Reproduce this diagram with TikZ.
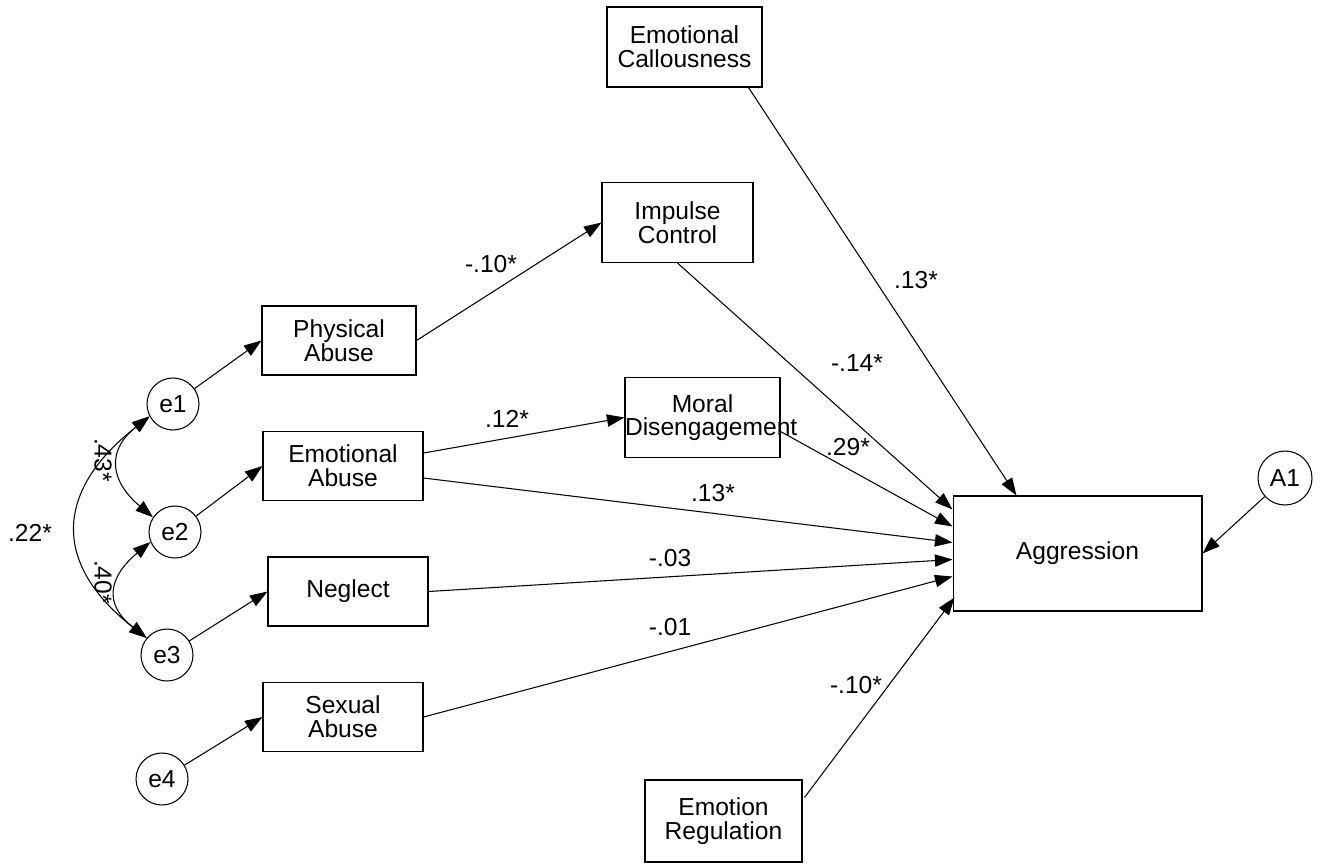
\documentclass[tikz,border=0pt]{standalone}
\usepackage{fontspec}
\setmainfont{Liberation Sans}
\usetikzlibrary{arrows.meta, calc}

\begin{document}
\begin{tikzpicture}[
    x=0.02cm, y=0.02cm, line width=0.6pt,
    obs/.style={draw, rectangle, align=center, inner sep=0pt,
                minimum width=3.1cm, minimum height=1.6cm,
                font=\fontsize{14}{13.5}\selectfont},
    abuse/.style={obs, minimum width=3.2cm, minimum height=1.38cm},
    err/.style={draw, circle, inner sep=0pt, minimum size=1.04cm,
                font=\fontsize{14}{14}\selectfont},
    coef/.style={inner sep=0pt, font=\fontsize{14}{14}\selectfont},
    eff/.style={-{Triangle[length=10pt, width=7pt]}},
    cov/.style={{Triangle[length=10pt, width=7pt]}-{Triangle[length=10pt, width=7pt]}},
]
    \useasboundingbox (0,0) rectangle (1321,-863);

    % Error terms
    \node[err] (e1) at (173,-404) {e1};
    \node[err] (e2) at (175,-532) {e2};
    \node[err] (e3) at (167,-655) {e3};
    \node[err] (e4) at (162,-779) {e4};
    \node[err, minimum size=1.08cm] (A1) at (1285,-478) {A1};

    % Maltreatment types
    \node[abuse, minimum width=3.08cm] (phys) at (339,-340.5) {Physical\\Abuse};
    \node[abuse] (emoab) at (343,-466) {Emotional\\Abuse};
    \node[abuse] (neglect) at (348,-591.5) {Neglect};
    \node[abuse] (sexab) at (343,-717) {Sexual\\Abuse};

    % Mediators and outcome
    \node[obs] (callous) at (684.5,-47) {Emotional\\Callousness};
    \node[obs, minimum width=3.02cm] (impulse) at (677.5,-222.5) {Impulse\\Control};
    \node[obs, text width=3.1cm] (moral) at (702.5,-417.5) {Moral\\Disengagement};
    \node[obs, minimum width=3.14cm, minimum height=1.64cm] (emoreg) at (723.5,-821) {Emotion\\Regulation};
    \node[obs, minimum width=4.98cm, minimum height=2.3cm] (aggr) at (1077.5,-553.5) {Aggression};

    % Errors to indicators
    \draw[eff] (e1) -- (phys.west);
    \draw[eff] (e2) -- (emoab.west);
    \draw[eff] (e3) -- (neglect.west);
    \draw[eff] (e4) -- (sexab.west);
    \draw[eff] (A1) -- (aggr.east);

    % Covariances
    \draw[cov] (e1.208) to[out=218, in=140, looseness=1.41] (e2.146);
    \draw[cov] (e2.202) to[out=220, in=142, looseness=1.46] (e3.140);
    \draw[cov] (e1.208) to[out=218, in=142, looseness=1.39] (e3.140);
    \node[coef, rotate=-90] (l43) at (103,-460) {.43*};
    \node[coef, rotate=-90] (l40) at (103,-582) {.40*};
    \node[coef] (l22) at (30,-533) {.22*};

    % Paths
    \draw[eff] (phys.east) -- (impulse.west);
    \draw[eff] ($(emoab.east)+(0,13)$) -- (moral.west);
    \draw[eff] ($(callous.south east)+(-14,0)$) -- ($(aggr.north west)+(64,0)$);
    \draw[eff] (impulse.south) -- ($(aggr.north west)+(0,-14)$);
    \draw[eff] ($(moral.east)+(0,-14)$) -- ($(aggr.north west)+(0,-31)$);
    \draw[eff] ($(emoab.east)+(0,-12)$) -- ($(aggr.north west)+(0,-47)$);
    \draw[eff] (neglect.east) -- ($(aggr.north west)+(0,-64)$);
    \draw[eff] (sexab.east) -- ($(aggr.north west)+(0,-81)$);
    \draw[eff] ($(emoreg.north east)+(2,-18)$) -- ($(aggr.south west)+(2,14)$);

    % Path coefficients
    \node[coef] (lphys) at (491,-264) {-.10*};
    \node[coef] (lcal) at (916,-280) {.13*};
    \node[coef] (limp) at (857,-363) {-.14*};
    \node[coef] (lmor1) at (507,-419) {.12*};
    \node[coef] (lmor2) at (848,-447) {.29*};
    \node[coef] (lemo) at (713,-493) {.13*};
    \node[coef] (lneg) at (670,-558) {-.03};
    \node[coef] (lsex) at (670,-627) {-.01};
    \node[coef] (lreg) at (856,-685) {-.10*};
\end{tikzpicture}
\end{document}
